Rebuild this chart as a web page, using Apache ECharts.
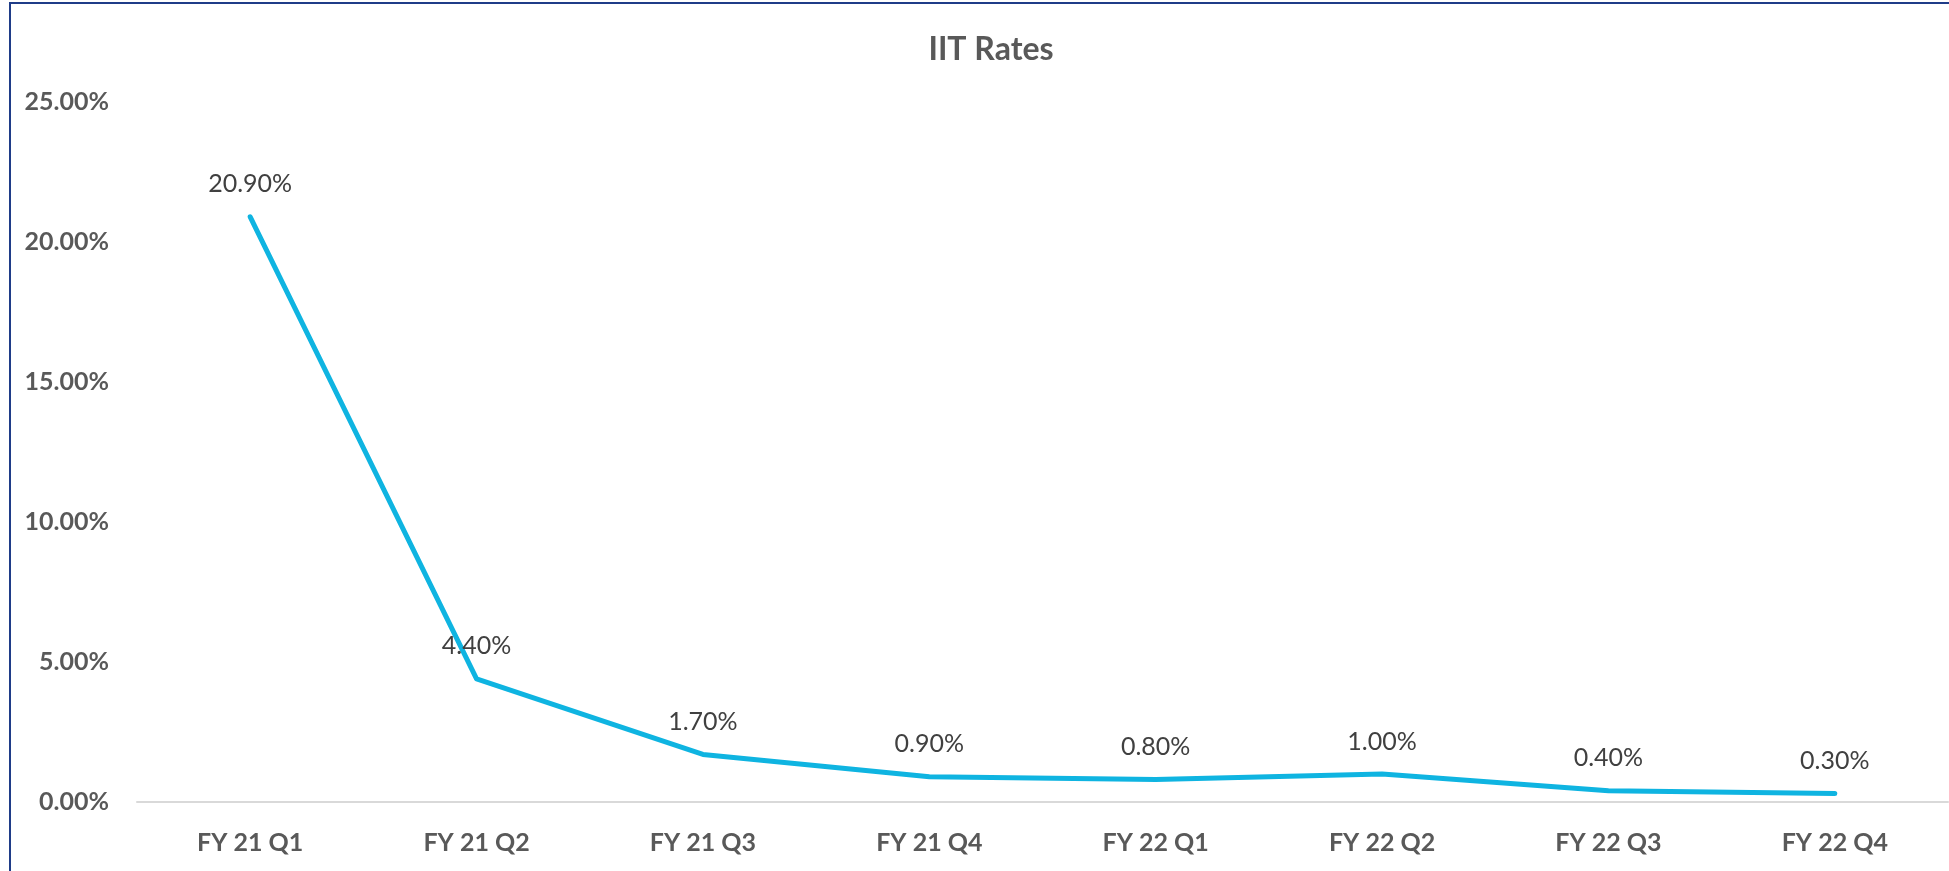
<!DOCTYPE html>
<html>
<head>
<meta charset="utf-8">
<title>IIT Rates</title>
<script src="https://cdn.jsdelivr.net/npm/echarts@6/dist/echarts.min.js"></script>
<style>
  html, body { margin: 0; padding: 0; background: #ffffff; }
  #frame {
    position: absolute; left: 9px; top: 2px; width: 1960px; height: 900px;
    border-left: 2px solid #1f3c88; border-top: 2px solid #1f3c88;
    box-sizing: border-box;
  }
  #chart { position: absolute; left: 0; top: 0; width: 1949px; height: 871px; }
</style>
</head>
<body>
<div id="frame"></div>
<div id="chart"></div>
<script>
// Quarterly IIT rates (percent)
const quarters = ['FY 21 Q1', 'FY 21 Q2', 'FY 21 Q3', 'FY 21 Q4', 'FY 22 Q1', 'FY 22 Q2', 'FY 22 Q3', 'FY 22 Q4'];
const iitRates = [20.9, 4.4, 1.7, 0.9, 0.8, 1.0, 0.4, 0.3];
const yTicks = { min: 0, max: 25, step: 5 };

const chart = echarts.init(document.getElementById('chart'));
chart.setOption({
  animation: false,
  backgroundColor: 'transparent',
  title: {
    text: 'IIT Rates',
    left: 986,
    top: 29,
    textAlign: 'center',
    textStyle: { fontFamily: 'Lato', fontWeight: 'bold', fontSize: 32, color: '#595959' }
  },
  grid: { left: 137, right: 1, top: 102, bottom: 69 },
  xAxis: {
    type: 'category',
    data: quarters,
    boundaryGap: true,
    axisLine: { show: true, lineStyle: { color: '#d9d9d9', width: 2 } },
    axisTick: { show: false },
    axisLabel: { fontFamily: 'Lato', fontWeight: 'bold', fontSize: 25, color: '#595959', margin: 28 }
  },
  yAxis: {
    type: 'value',
    min: yTicks.min,
    max: yTicks.max,
    interval: yTicks.step,
    axisLine: { show: false },
    axisTick: { show: false },
    splitLine: { show: false },
    axisLabel: {
      fontFamily: 'Lato', fontWeight: 'bold', fontSize: 25, color: '#595959', margin: 28,
      formatter: v => v.toFixed(2) + '%'
    }
  },
  series: [{
    type: 'line',
    data: iitRates,
    symbol: 'circle',
    symbolSize: 0.1,
    showSymbol: true,
    lineStyle: { color: '#0fb4e1', width: 5, cap: 'round', join: 'round' },
    itemStyle: { color: '#0fb4e1' },
    label: {
      show: true,
      position: 'top',
      distance: 20,
      fontFamily: 'Lato', fontSize: 25, color: '#404040',
      formatter: p => p.value.toFixed(2) + '%'
    }
  }]
});
</script>
</body>
</html>
